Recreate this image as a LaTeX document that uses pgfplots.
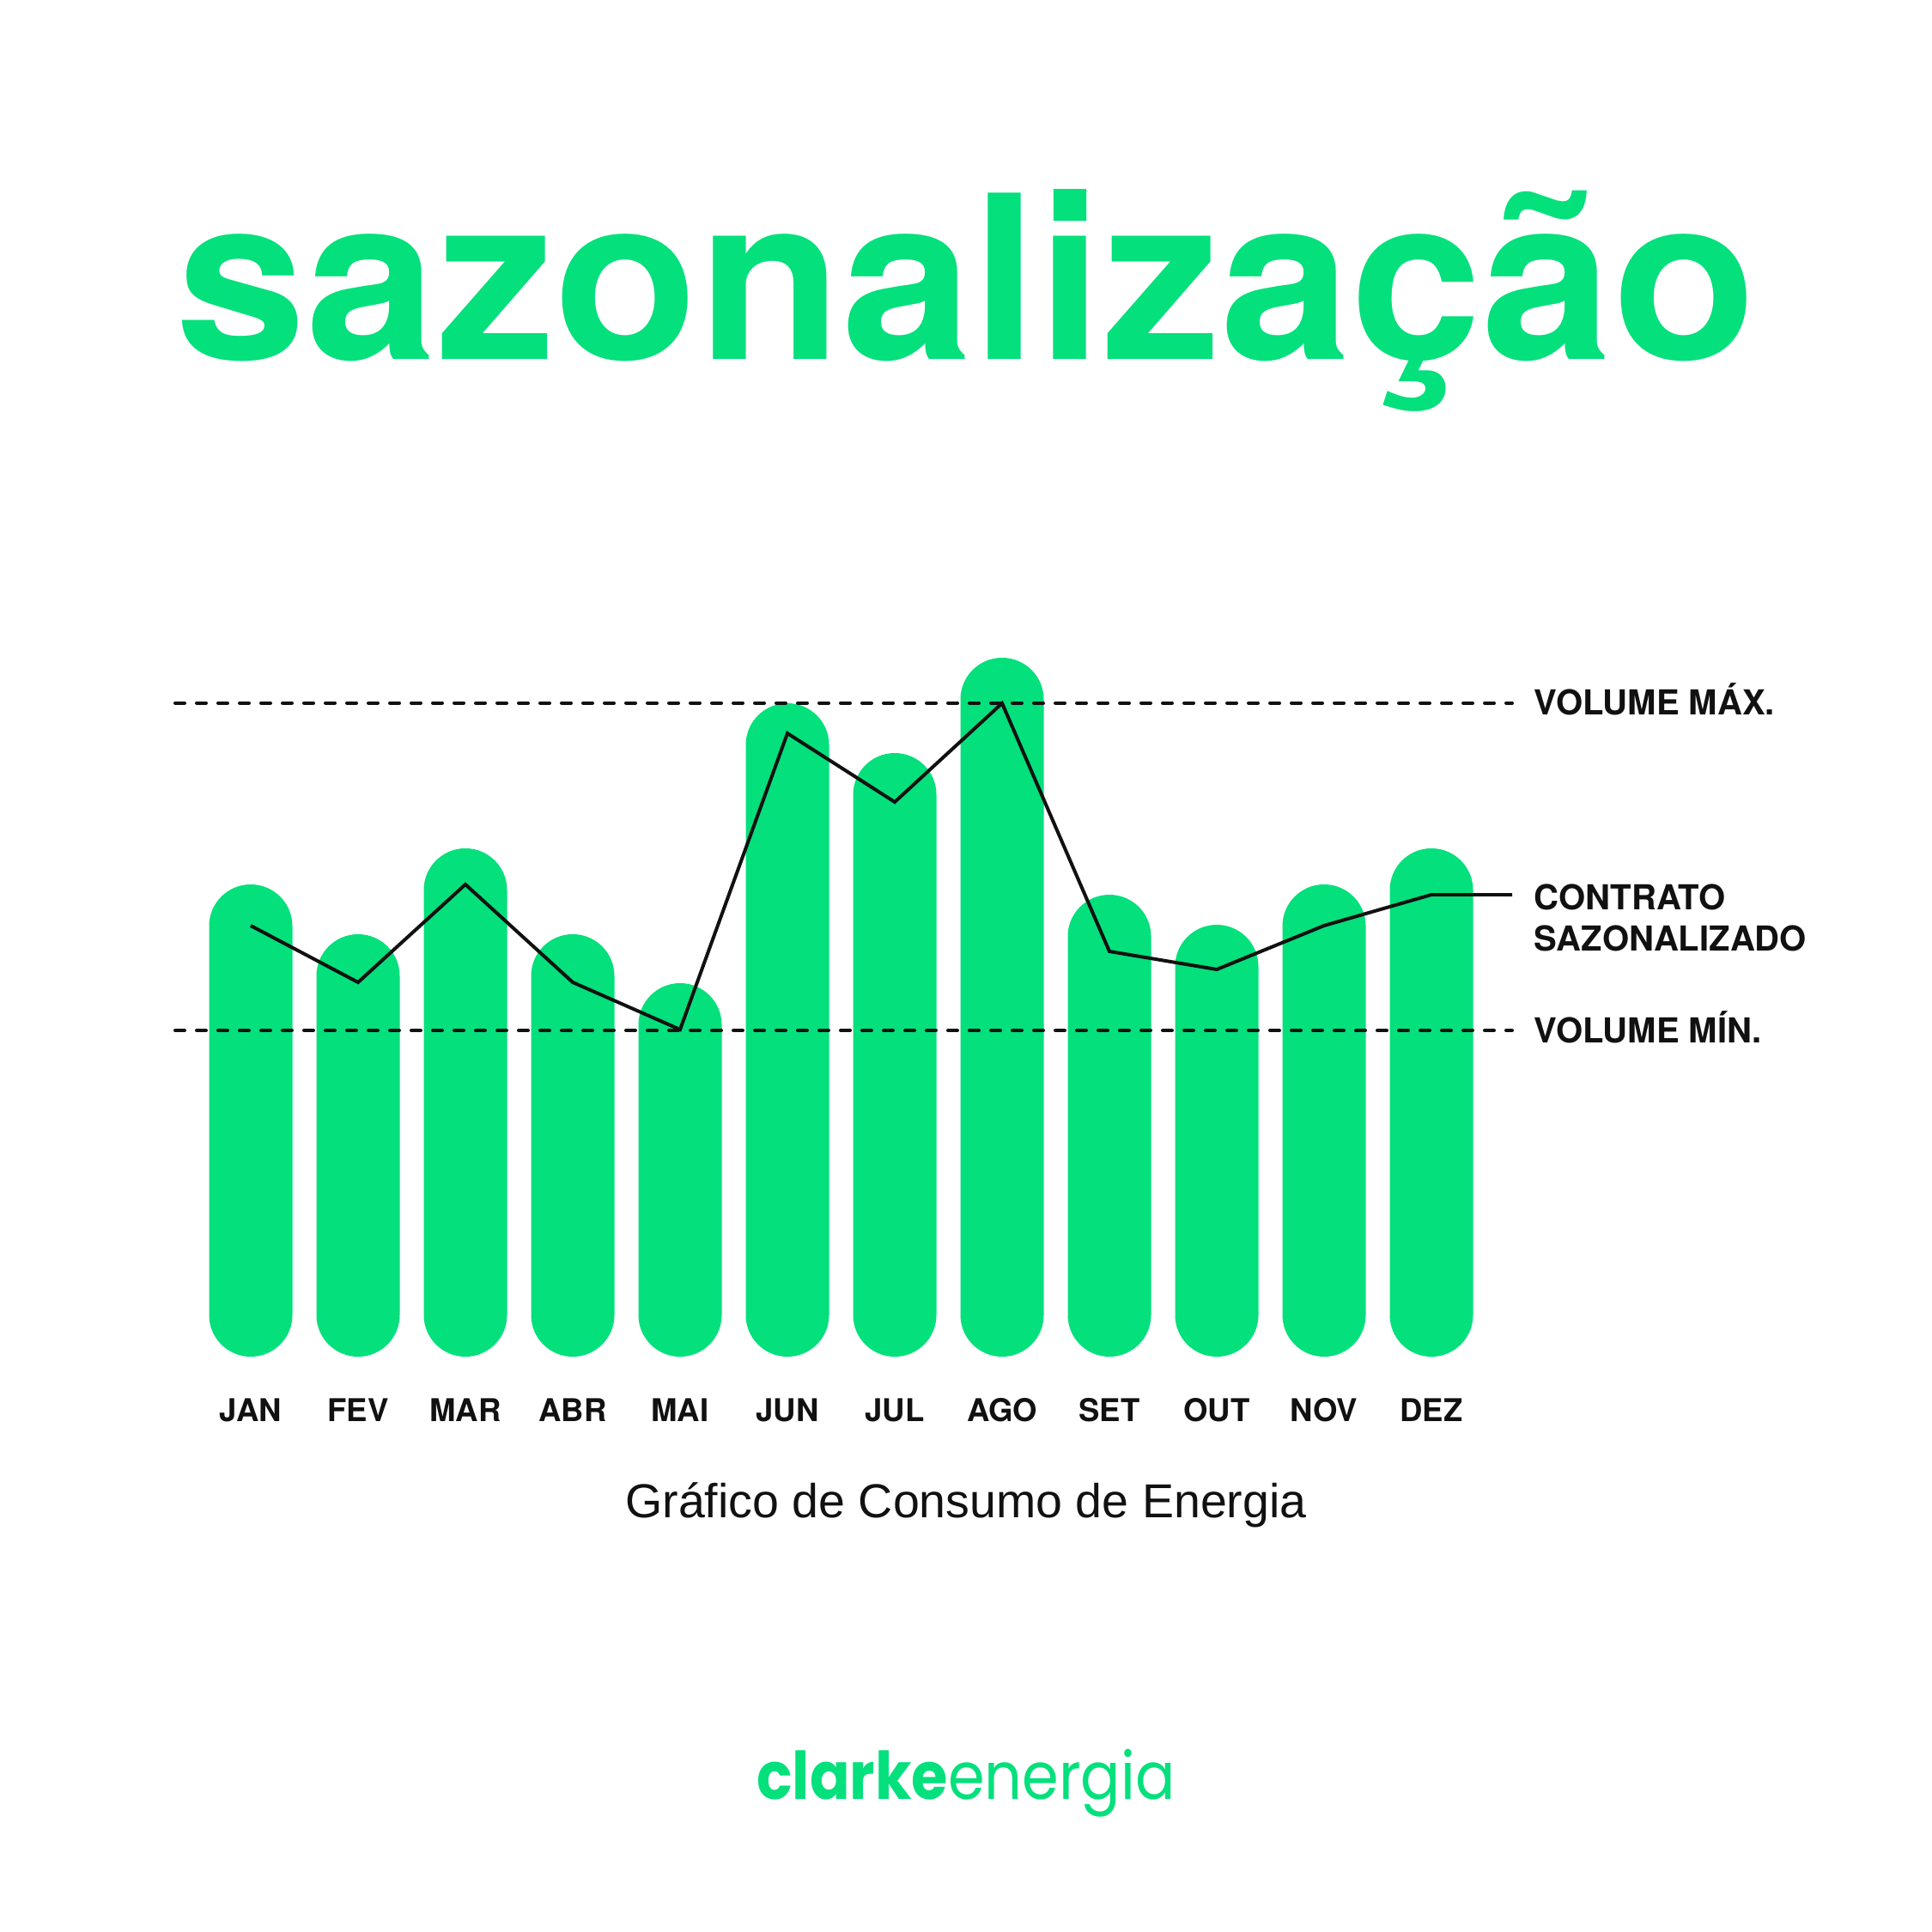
\documentclass[border=0pt]{standalone}
\usepackage{fontspec}
\setmainfont{TeX Gyre Heros}
\newfontfamily\poppins{Poppins}
\newfontfamily\lib{Liberation Sans}
\usepackage{pgfplots}
\usepackage{pgfplotstable}
\pgfplotsset{compat=1.18}
\definecolor{cgreen}{RGB}{3,224,124}
\definecolor{ink}{RGB}{17,17,17}

\pgfplotstableread{
x      consumo contrato
0      55.0    50.2
1      49.2    43.6
2      59.2    55.0
3      49.2    43.6
4      43.5    38.1
5      76.1    72.6
6      70.3    64.6
7      81.4    76.1
8      53.8    47.2
9      50.3    45.1
10     55.0    50.2
11     59.2    53.8
11.752 nan     53.8
}\dados

\begin{document}
\begin{tikzpicture}
\fill[white] (0,0) rectangle (22.5,22.5);
\useasboundingbox (0,0) rectangle (22.5,22.5);

\node[anchor=base, text=cgreen, inner sep=0pt, font=\fontsize{75.6}{80}\selectfont\bfseries] at (11.25,18.31) {\scalebox{1.03}[1]{sazonalização}};

\begin{axis}[
  at={(2.04cm,6.70cm)}, anchor=south west,
  scale only axis, width=15.57cm, height=8.5cm,
  xmin=-0.704, xmax=11.752, ymin=0, ymax=85,
  clip=false,
  axis line style={draw=none},
  tick style={draw=none}, major tick length=0pt,
  ytick=\empty,
  xtick={0,1,2,3,4,5,6,7,8,9,10,11},
  xticklabels={JAN,FEV,MAR,ABR,MAI,JUN,JUL,AGO,SET,OUT,NOV,DEZ},
  xticklabel style={anchor=base, yshift=-0.76cm, text=ink, font=\fontsize{10.4}{12}\selectfont\bfseries},
]
\addplot[ybar, bar width=0.97cm, fill=cgreen, draw=none, rounded corners=0.485cm] table[x=x, y=consumo] {\dados};
\addplot[ink, line width=0.04cm, dash pattern=on 0.11cm off 0.14cm, line cap=round] coordinates {(-0.704,76.13) (11.752,76.13)};
\addplot[ink, line width=0.04cm, dash pattern=on 0.11cm off 0.14cm, line cap=round] coordinates {(-0.704,38.0) (11.752,38.0)};
\addplot[ink, line width=0.04cm, line join=miter, unbounded coords=jump] table[x=x, y=contrato] {\dados};
\end{axis}

\begin{scope}[every node/.style={anchor=base west, inner sep=0pt, text=ink, font=\fontsize{11.4}{13}\selectfont\bfseries}]
\node at (17.86,14.177) {VOLUME MÁX.};
\node at (17.86,11.90) {CONTRATO};
\node at (17.86,11.423) {SAZONALIZADO};
\node at (17.86,10.35) {VOLUME MÍN.};
\end{scope}

\node[anchor=base, inner sep=0pt, text=ink, font=\lib\fontsize{15.8}{18}\selectfont] at (11.25,4.82) {Gráfico de Consumo de Energia};

\node[anchor=base, inner sep=0pt, text=cgreen, font=\poppins\fontsize{21.8}{25}\selectfont] at (11.25,1.54) {\scalebox{0.897}[1]{\textbf{clarke}energia}};
\end{tikzpicture}
\end{document}
